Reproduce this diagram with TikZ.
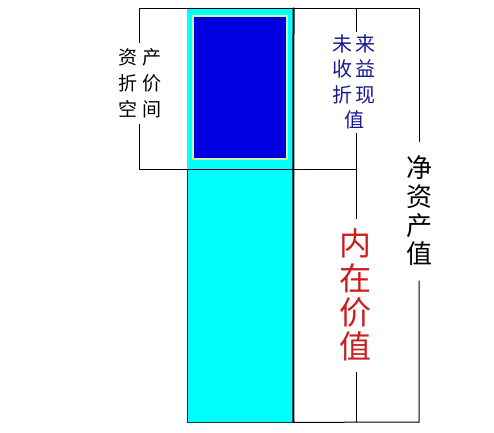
\documentclass[tikz,border=0pt]{standalone}
\usepackage{fontspec}
\setmainfont{Noto Sans CJK SC}
\definecolor{cyanc}{RGB}{0,255,255}
\definecolor{bluec}{RGB}{0,0,225}
\definecolor{paleg}{RGB}{200,250,170}
\definecolor{navy}{RGB}{25,25,150}
\definecolor{redc}{RGB}{205,30,30}
\definecolor{edgec}{RGB}{20,60,60}
\begin{document}
\begin{tikzpicture}[x=1pt,y=-1pt,line width=1pt,
  lbl/.style={fill=white,inner sep=0pt,align=center,minimum width=30pt},
  colpart/.style={fill=cyanc,inner sep=0pt,minimum width=106pt},
]
\useasboundingbox (0,0) rectangle (494,432);
% column
\node[colpart,minimum height=161pt] (up) at (240,88.5) {};
\node[colpart,draw=edgec,line width=0.8pt,minimum height=253pt] (low) at (240,295.5) {};
\node[draw=paleg,fill=bluec,line width=1.3pt,minimum width=94pt,minimum height=143pt,inner sep=0pt] (blue) at (240,87.5) {};
\draw[line width=2pt] (up.north east) -- (low.south east);
% coordinates
\coordinate (tl) at (139,8);
\coordinate (tr) at (419,8);
\coordinate (ml) at (139,169);
\coordinate (mm) at (356,169);
\coordinate (tm) at (356,8);
\coordinate (bm) at (356,422);
\coordinate (br) at (419,422);
% labels
\node[lbl,minimum height=80pt,font=\fontsize{19}{26}\selectfont] (L1) at (139.5,83)
  {资\hspace{5pt}产\\折\hspace{5pt}价\\空\hspace{5pt}间};
\node[lbl,minimum height=100pt,text=navy,font=\fontsize{20}{25.5}\selectfont] (L2) at (354,82)
  {未\hspace{3pt}来\\收\hspace{3pt}益\\折\hspace{3pt}现\\值};
\node[lbl,minimum height=138pt,font=\fontsize{26}{28.7}\selectfont] (L3) at (419,211)
  {净\\资\\产\\值};
\node[lbl,minimum height=152pt,text=redc,font=\fontsize{32}{34.3}\selectfont] (L4) at (355,295)
  {内\\在\\价\\值};
% bracket lines
\draw (tl) -- (tr);
\draw (tl) -- (tl |- L1.north);
\draw (tl |- L1.south) -- (ml) -- (mm);
\draw (tm) -- (tm |- L2.north);
\draw (tm |- L2.south) -- (tm |- L4.north);
\draw (tm |- L4.south) -- (bm);
\draw (tr) -- (tr |- L3.north);
\draw (tr |- L3.south) -- (br) -- (low.south east);
\end{tikzpicture}
\end{document}
